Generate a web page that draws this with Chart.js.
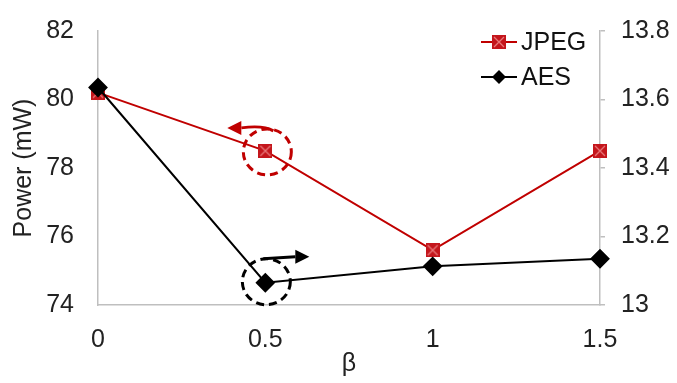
<!DOCTYPE html>
<html><head><meta charset="utf-8">
<script src="https://cdn.jsdelivr.net/npm/chart.js@4"></script>
<style>html,body{margin:0;padding:0;background:#fff}#w{width:677px;height:383px}</style>
</head><body><div id="w"><canvas id="c" width="677" height="383"></canvas></div>
<script>
const categories = ['0', '0.5', '1', '1.5'];
const jpegPower = [80.2, 78.5, 75.6, 78.5];
const aesPower = [13.635, 13.065, 13.113, 13.135];
const leftTicks = [74, 76, 78, 80, 82];
const rightTicks = [13, 13.2, 13.4, 13.6, 13.8];

const RED = '#C00000';
const FONT = "'Liberation Sans', Arial, sans-serif";
const FS = 25;

function jpegMarker(size) {
  const c = document.createElement('canvas');
  c.width = size; c.height = size;
  const g = c.getContext('2d');
  g.fillStyle = '#C4161C';
  g.fillRect(0, 0, size, size);
  g.strokeStyle = '#E8787A';
  g.lineWidth = 1.3;
  g.beginPath();
  g.moveTo(2, 2); g.lineTo(size - 2, size - 2);
  g.moveTo(size - 2, 2); g.lineTo(2, size - 2);
  g.stroke();
  return c;
}
const jm = jpegMarker(14);

const overlay = {
  id: 'overlay',
  afterDatasetsDraw(chart) {
    const ctx = chart.ctx;
    const x = chart.scales.x, yl = chart.scales.yL, yr = chart.scales.yR;
    // red annotation
    const px = x.getPixelForValue(1), py = yl.getPixelForValue(jpegPower[1]);
    ctx.save();
    ctx.lineWidth = 3;
    ctx.setLineDash([8, 5]);
    ctx.strokeStyle = RED;
    ctx.beginPath(); ctx.ellipse(px + 2, py + 1, 24, 23, 0, 0, Math.PI * 2); ctx.stroke();
    ctx.setLineDash([]);
    ctx.beginPath();
    ctx.moveTo(px + 8, py - 20);
    ctx.quadraticCurveTo(px - 2, py - 26, px - 24, py - 23);
    ctx.stroke();
    ctx.fillStyle = RED;
    ctx.beginPath();
    ctx.moveTo(px - 38, py - 23); ctx.lineTo(px - 24, py - 30); ctx.lineTo(px - 24, py - 16); ctx.closePath(); ctx.fill();
    // black annotation
    const bx = x.getPixelForValue(1), by = yr.getPixelForValue(aesPower[1]);
    ctx.strokeStyle = '#000';
    ctx.fillStyle = '#000';
    ctx.setLineDash([8, 5]);
    ctx.beginPath(); ctx.ellipse(bx + 1, by - 1, 24, 23, 0, 0, Math.PI * 2); ctx.stroke();
    ctx.setLineDash([]);
    ctx.lineWidth = 3;
    ctx.beginPath();
    ctx.moveTo(bx - 2, by - 24); ctx.lineTo(bx + 30, by - 26); ctx.stroke();
    ctx.beginPath();
    ctx.moveTo(bx + 44, by - 26); ctx.lineTo(bx + 30, by - 33); ctx.lineTo(bx + 30, by - 19); ctx.closePath(); ctx.fill();
    // legend
    const lx = 481, ly1 = 42, ly2 = 77;
    ctx.lineWidth = 2;
    ctx.strokeStyle = RED;
    ctx.beginPath(); ctx.moveTo(lx, ly1); ctx.lineTo(lx + 36, ly1); ctx.stroke();
    ctx.drawImage(jm, lx + 11, ly1 - 7);
    ctx.strokeStyle = '#000';
    ctx.beginPath(); ctx.moveTo(lx, ly2); ctx.lineTo(lx + 36, ly2); ctx.stroke();
    ctx.beginPath();
    ctx.moveTo(lx + 18, ly2 - 7); ctx.lineTo(lx + 25, ly2); ctx.lineTo(lx + 18, ly2 + 7); ctx.lineTo(lx + 11, ly2); ctx.closePath(); ctx.fill();
    ctx.font = FS + 'px ' + FONT;
    ctx.fillStyle = '#111';
    ctx.textBaseline = 'middle';
    ctx.textAlign = 'left';
    ctx.fillText(chart.data.datasets[0].label, lx + 40, ly1 + 1);
    ctx.fillText(chart.data.datasets[1].label, lx + 40, ly2 + 1);
    ctx.restore();
  }
};

new Chart(document.getElementById('c'), {
  type: 'line',
  data: {
    labels: categories,
    datasets: [
      { label: 'JPEG', data: jpegPower, yAxisID: 'yL', borderColor: RED, borderWidth: 2,
        pointStyle: jm, pointRadius: 7, pointHoverRadius: 7, order: 2 },
      { label: 'AES', data: aesPower, yAxisID: 'yR', borderColor: '#000', borderWidth: 2,
        pointStyle: 'rectRot', pointRadius: 8.5, pointHoverRadius: 8.5, backgroundColor: '#000', pointBorderColor: '#000', order: 1 }
    ]
  },
  options: {
    responsive: false,
    animation: false,
    events: [],
    layout: { padding: { top: 21, left: 0, right: 0, bottom: 0 } },
    plugins: { legend: { display: false }, tooltip: { enabled: false } },
    scales: {
      x: {
        offset: false,
        grid: { display: false },
        border: { display: true, color: '#BFBFBF', width: 1.5 },
        ticks: { color: '#222', font: { family: FONT, size: FS }, padding: 12 },
        title: { display: true, text: 'β', color: '#222', font: { family: FONT, size: FS }, padding: { top: 0 } },
        afterFit(s) { s.height = 78; }
      },
      yL: {
        position: 'left', min: 74, max: 82,
        afterBuildTicks(s) { s.ticks = leftTicks.map(v => ({ value: v })); },
        grid: { display: false },
        border: { display: true, color: '#BFBFBF', width: 1.5 },
        ticks: { color: '#222', font: { family: FONT, size: FS }, padding: 16 },
        title: { display: true, text: 'Power (mW)', color: '#222', font: { family: FONT, size: FS }, padding: { top: 9, bottom: 0 } },
        afterFit(s) { s.width = 98; }
      },
      yR: {
        position: 'right', min: 13, max: 13.8,
        afterBuildTicks(s) { s.ticks = rightTicks.map(v => ({ value: v })); },
        grid: { display: true, drawOnChartArea: false, drawTicks: true, tickLength: 5, color: '#BFBFBF', lineWidth: 1.5 },
        border: { display: true, color: '#BFBFBF', width: 1.5 },
        ticks: { color: '#222', font: { family: FONT, size: FS }, padding: 16,
          callback: v => (Math.round(v * 10) / 10).toString() },
        afterFit(s) { s.width = 77; }
      }
    }
  },
  plugins: [overlay]
});
</script>
</body></html>
